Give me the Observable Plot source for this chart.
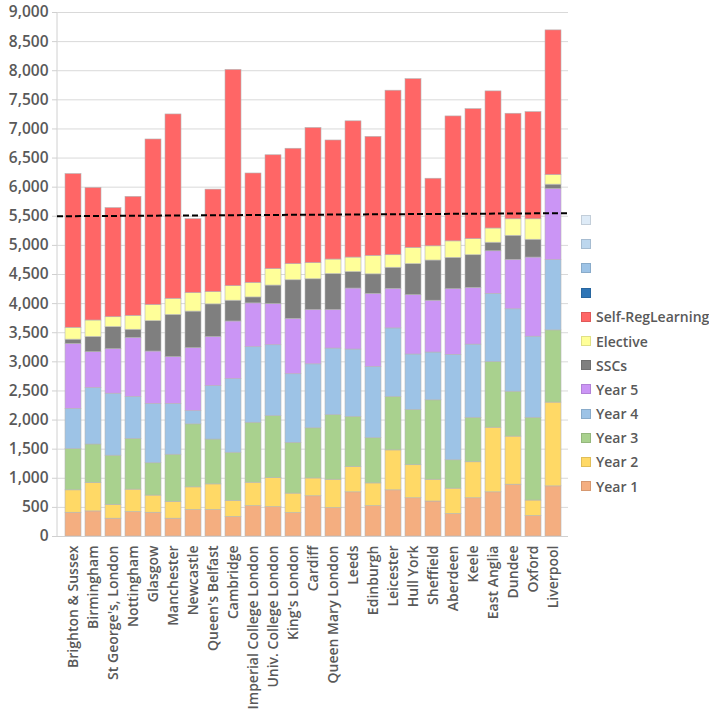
<!DOCTYPE html>
<html><head><meta charset="utf-8">
<script src="https://cdn.jsdelivr.net/npm/d3@7"></script>
<script src="https://cdn.jsdelivr.net/npm/@observablehq/plot@0.6"></script>
<style>
body{margin:0;background:#fff;}
#wrap{position:relative;width:709px;height:710px;font-family:"Open Sans",sans-serif;}
#legend{position:absolute;left:581px;top:208px;}
.item{display:flex;align-items:center;height:24.2px;font-weight:600;font-size:14px;color:#595959;white-space:nowrap;}
.sw{width:8px;height:8px;margin-right:5px;border:1px solid rgba(0,0,0,0.12);}
</style></head>
<body><div id="wrap"><div id="legend"></div></div>
<script>
const universities = ["Brighton & Sussex","Birmingham","St George's, London","Nottingham","Glasgow","Manchester","Newcastle","Queen's Belfast","Cambridge","Imperial College London","Univ. College London","King's London","Cardiff","Queen Mary London","Leeds","Edinburgh","Leicester","Hull York","Sheffield","Aberdeen","Keele","East Anglia","Dundee","Oxford","Liverpool"];

const year1    = [408, 431, 306, 420, 408, 306, 454, 454, 335, 521, 504, 403, 691, 487, 759, 521, 793, 657, 601, 386, 657, 759, 890, 352, 861];
const year2    = [385, 487, 238, 385, 295, 289, 390, 441, 277, 403, 499, 334, 306, 488, 436, 391, 686, 567, 374, 436, 618, 1110, 826, 266, 1439];
const year3    = [708, 662, 844, 872, 555, 810, 1082, 770, 827, 1030, 1064, 872, 861, 1109, 861, 776, 917, 951, 1364, 487, 764, 1127, 771, 1421, 1240];
const year4    = [691, 969, 1065, 719, 1019, 872, 226, 918, 1263, 1297, 1218, 1178, 1099, 1144, 1155, 1223, 1178, 951, 821, 1812, 1257, 1172, 1415, 1393, 1206];
const year5    = [1116, 617, 764, 1014, 900, 804, 1082, 844, 991, 753, 708, 951, 934, 663, 1048, 1257, 679, 1020, 890, 1127, 974, 731, 850, 1359, 1224];
const sscs     = [73, 261, 379, 141, 521, 725, 629, 560, 357, 102, 317, 663, 527, 617, 283, 335, 363, 532, 690, 538, 561, 147, 413, 306, 73];
const elective = [204, 283, 170, 238, 278, 277, 317, 210, 249, 249, 283, 277, 277, 249, 249, 317, 215, 278, 244, 283, 277, 244, 283, 351, 165];
const selfReg  = [2640, 2277, 1875, 2045, 2843, 3166, 1270, 1761, 3715, 1880, 1955, 1982, 2322, 2045, 2340, 2044, 2826, 2899, 1161, 2146, 2232, 2355, 1813, 1841, 2485];

const seriesNames  = ["Year 1","Year 2","Year 3","Year 4","Year 5","SSCs","Elective","Self-RegLearning"];
const seriesColors = ["#F4AE80","#FFD966","#A9D18E","#9DC3E6","#CB95F5","#7F7F7F","#FFFF99","#FF6666"];
const blankLegendColors = ["#DEEBF7","#BDD7EE","#9DC3E6","#2E75B6"];
const trendLine = [5492, 5545];
const yTicks = d3.range(0, 9001, 500);

const seriesValues = [year1, year2, year3, year4, year5, sscs, elective, selfReg];
const rows = [];
seriesNames.forEach((s, si) => {
  universities.forEach((u, ui) => rows.push({uni: u, series: s, value: seriesValues[si][ui]}));
});

const W = 578, H = 710, mL = 57, mR = 10, mT = 12, mB = 174;

const chart = Plot.plot({
  width: W, height: H,
  marginLeft: mL, marginRight: mR, marginTop: mT, marginBottom: mB,
  style: {fontFamily: "'Open Sans', sans-serif", background: "#fff", overflow: "visible"},
  x: {domain: universities, paddingInner: 0.21, paddingOuter: 0.1, label: null},
  y: {domain: [0, 9000], label: null},
  color: {domain: seriesNames, range: seriesColors},
  marks: [
    Plot.gridY(yTicks, {stroke: "#d9d9d9", strokeOpacity: 1, strokeWidth: 1}),
    Plot.axisY({ticks: yTicks, tickFormat: d3.format(","), tickSize: 5, tickPadding: 4,
      stroke: "#d0d0d0", fill: "#595959", fontSize: 15.5, fontWeight: 600}),
    Plot.barY(rows, Plot.stackY({x: "uni", y: "value", fill: "series", order: null,
      stroke: "#b5b5b5", strokeWidth: 0.6})),
    Plot.ruleY([0], {stroke: "#d0d0d0"}),
    Plot.axisX({tickRotate: -90, tickSize: 0, tickPadding: 9, fill: "#595959",
      fontSize: 14, fontWeight: 600})
  ]
});

document.getElementById("wrap").prepend(chart);

// left axis line and dashed reference line, positioned via the y scale
const ys = chart.scale("y");
const yScale = d3.scaleLinear().domain(ys.domain).range(ys.range);
d3.select(chart).insert("line", ":first-child")
  .attr("x1", mL).attr("x2", mL)
  .attr("y1", yScale(9000)).attr("y2", yScale(0))
  .attr("stroke", "#d0d0d0");
d3.select(chart).append("line")
  .attr("x1", mL).attr("x2", W - mR)
  .attr("y1", yScale(trendLine[0])).attr("y2", yScale(trendLine[1]))
  .attr("stroke", "#000").attr("stroke-width", 2).attr("stroke-dasharray", "6,3");

const legend = d3.select("#legend");
blankLegendColors.forEach(c => {
  const it = legend.append("div").attr("class", "item");
  it.append("div").attr("class", "sw").style("background", c);
  it.append("span").text("");
});
seriesNames.slice().reverse().forEach((s) => {
  const c = seriesColors[seriesNames.indexOf(s)];
  const it = legend.append("div").attr("class", "item");
  it.append("div").attr("class", "sw").style("background", c);
  it.append("span").text(s);
});
</script>
</body></html>
